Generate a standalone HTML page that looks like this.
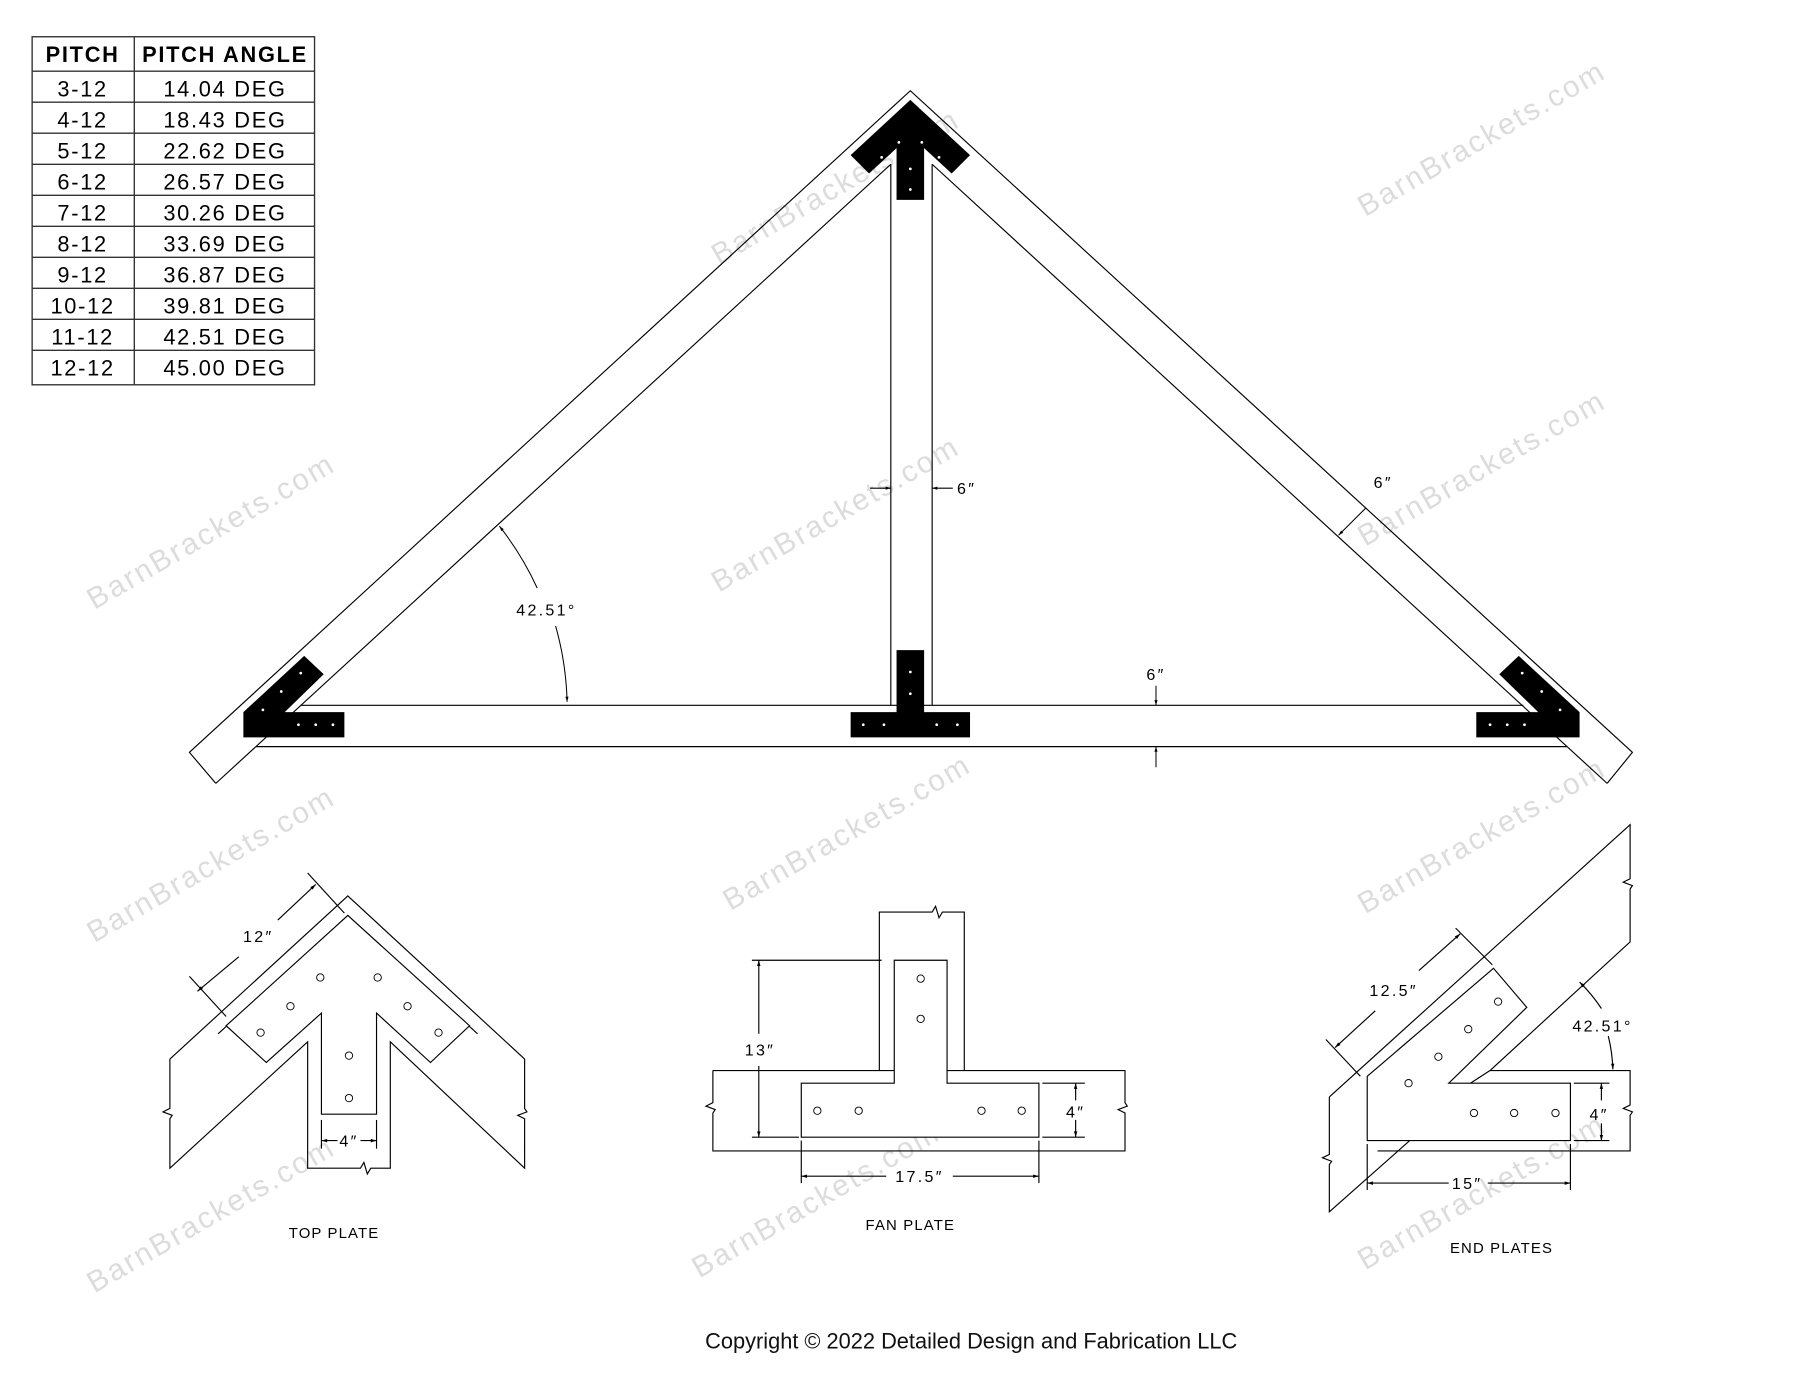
<!DOCTYPE html>
<html><head><meta charset="utf-8"><style>
html,body{margin:0;padding:0;background:#fff;}
svg{display:block;}
text{font-family:"Liberation Sans",sans-serif;}
.t{font-size:19px;letter-spacing:1.5px;fill:#000;}
.d{font-size:14px;letter-spacing:2px;fill:#000;}
.w{font-size:26px;fill:#dcdcdc;letter-spacing:2px;}
</style></head><body>
<svg width="1800" height="1391" viewBox="0 0 1568 1211" preserveAspectRatio="none" xmlns="http://www.w3.org/2000/svg">
<defs>
<marker id="a" viewBox="0 0 10 10" refX="10" refY="5" markerWidth="7" markerHeight="5" orient="auto-start-reverse"><path d="M0,2 L10,5 L0,8z" fill="#000"/></marker>
</defs>
<rect width="1568" height="1211" fill="#fff"/>
<g class="w">
<text class="w" transform="translate(188,470) rotate(-30)" text-anchor="middle">BarnBrackets.com</text>
<text class="w" transform="translate(732,170) rotate(-30)" text-anchor="middle">BarnBrackets.com</text>
<text class="w" transform="translate(1295,128) rotate(-30)" text-anchor="middle">BarnBrackets.com</text>
<text class="w" transform="translate(732,455) rotate(-30)" text-anchor="middle">BarnBrackets.com</text>
<text class="w" transform="translate(1295,415) rotate(-30)" text-anchor="middle">BarnBrackets.com</text>
<text class="w" transform="translate(188,760) rotate(-30)" text-anchor="middle">BarnBrackets.com</text>
<text class="w" transform="translate(742,732) rotate(-30)" text-anchor="middle">BarnBrackets.com</text>
<text class="w" transform="translate(1295,735) rotate(-30)" text-anchor="middle">BarnBrackets.com</text>
<text class="w" transform="translate(188,1065) rotate(-30)" text-anchor="middle">BarnBrackets.com</text>
<text class="w" transform="translate(715,1052) rotate(-30)" text-anchor="middle">BarnBrackets.com</text>
<text class="w" transform="translate(1295,1045) rotate(-30)" text-anchor="middle">BarnBrackets.com</text>
</g>
<g stroke="#333" stroke-width="1.2" fill="none">
<rect x="28" y="32" width="246" height="303"/>
<line x1="117" y1="32" x2="117" y2="335"/>
<line x1="28" y1="62" x2="274" y2="62"/>
<line x1="28" y1="89" x2="274" y2="89"/><line x1="28" y1="116" x2="274" y2="116"/>
<line x1="28" y1="143" x2="274" y2="143"/><line x1="28" y1="170" x2="274" y2="170"/>
<line x1="28" y1="197" x2="274" y2="197"/><line x1="28" y1="224" x2="274" y2="224"/>
<line x1="28" y1="251" x2="274" y2="251"/><line x1="28" y1="278" x2="274" y2="278"/>
<line x1="28" y1="305" x2="274" y2="305"/>
</g>
<g class="t" text-anchor="middle">
<text x="72" y="54" font-weight="bold">PITCH</text><text x="196" y="54" font-weight="bold">PITCH ANGLE</text>
<text x="72" y="84">3-12</text><text x="196" y="84">14.04 DEG</text>
<text x="72" y="111">4-12</text><text x="196" y="111">18.43 DEG</text>
<text x="72" y="138">5-12</text><text x="196" y="138">22.62 DEG</text>
<text x="72" y="165">6-12</text><text x="196" y="165">26.57 DEG</text>
<text x="72" y="192">7-12</text><text x="196" y="192">30.26 DEG</text>
<text x="72" y="219">8-12</text><text x="196" y="219">33.69 DEG</text>
<text x="72" y="246">9-12</text><text x="196" y="246">36.87 DEG</text>
<text x="72" y="273">10-12</text><text x="196" y="273">39.81 DEG</text>
<text x="72" y="300">11-12</text><text x="196" y="300">42.51 DEG</text>
<text x="72" y="327">12-12</text><text x="196" y="327">45.00 DEG</text>
</g>
<g stroke="#000" stroke-width="1" fill="none">
<polyline points="188,682 165,655 793,79 1422,655 1400,682"/>
<line x1="188" y1="682" x2="776" y2="143"/>
<line x1="1400" y1="682" x2="812" y2="143"/>
<line x1="776" y1="143" x2="776" y2="614"/>
<line x1="812" y1="143" x2="812" y2="614"/>
<line x1="262" y1="614" x2="1327" y2="614"/>
<line x1="223" y1="650" x2="1365" y2="650"/>
</g>
<g fill="#000">
<polygon points="793,87 845,135 829,151 805,129 805,174 781,174 781,129 757,151 741,135"/>
<polygon points="265,571 282,587 248,620 300,620 300,642 212,642 212,620"/>
<polygon points="1323,571 1306,587 1340,620 1286,620 1286,642 1376,642 1376,620"/>
<polygon points="781,566 805,566 805,620 845,620 845,642 741,642 741,620 781,620"/>
</g>
<g fill="#fff">
<circle cx="793" cy="147" r="1.2"/><circle cx="793" cy="165" r="1.2"/>
<circle cx="783" cy="124" r="1.2"/><circle cx="803" cy="124" r="1.2"/>
<circle cx="768" cy="137" r="1.2"/><circle cx="818" cy="137" r="1.2"/>
<circle cx="753" cy="149" r="1.2"/><circle cx="833" cy="149" r="1.2"/>
<circle cx="793" cy="585" r="1.2"/><circle cx="793" cy="604" r="1.2"/>
<circle cx="752" cy="631" r="1.2"/><circle cx="770" cy="631" r="1.2"/><circle cx="816" cy="631" r="1.2"/><circle cx="834" cy="631" r="1.2"/>
<circle cx="262" cy="586" r="1.2"/><circle cx="245" cy="602" r="1.2"/><circle cx="229" cy="618" r="1.2"/>
<circle cx="260" cy="631" r="1.2"/><circle cx="275" cy="631" r="1.2"/><circle cx="290" cy="631" r="1.2"/>
<circle cx="1326" cy="586" r="1.2"/><circle cx="1343" cy="602" r="1.2"/><circle cx="1359" cy="618" r="1.2"/>
<circle cx="1328" cy="631" r="1.2"/><circle cx="1313" cy="631" r="1.2"/><circle cx="1298" cy="631" r="1.2"/>
</g>
<g stroke="#000" stroke-width="0.9" fill="none">
<line x1="758" y1="425" x2="776" y2="425" marker-end="url(#a)"/>
<line x1="830" y1="425" x2="812" y2="425" marker-end="url(#a)"/>
<line x1="1190" y1="442" x2="1166" y2="466" marker-end="url(#a)"/>
<line x1="1007" y1="597" x2="1007" y2="614" marker-end="url(#a)"/>
<line x1="1007" y1="668" x2="1007" y2="650" marker-end="url(#a)"/>
<path d="M435,458 A266,266 0 0 1 468,512" marker-start="url(#a)"/>
<path d="M484,545 A266,266 0 0 1 494,611" marker-end="url(#a)"/>
</g>
<g class="d" text-anchor="middle">
<text x="842" y="430">6″</text>
<text x="1205" y="425">6″</text>
<text x="1007" y="592">6″</text>
<text x="476" y="536">42.51°</text>
</g>
<g stroke="#000" stroke-width="1" fill="none">
<polyline points="148,922 303,780 457,922"/>
<polyline points="148,922 148,965 142,968 150,971 148,974 148,1017 268,907 268,1017 314,1017 317,1012 320,1022 323,1017 340,1017 340,907 457,1017 457,974 451,971 459,968 457,965 457,922"/>
<polyline points="190,900 303,797 416,900"/>
<polygon points="197,893 303,797 409,893 375,925 328,882 328,970 280,970 280,882 232,925" fill="#fff"/>
<line x1="280" y1="975" x2="280" y2="1000"/><line x1="328" y1="975" x2="328" y2="1000"/>
<line x1="294" y1="993" x2="280" y2="993" marker-end="url(#a)"/>
<line x1="314" y1="993" x2="328" y2="993" marker-end="url(#a)"/>
<line x1="165" y1="850" x2="197" y2="885"/><line x1="268" y1="760" x2="300" y2="795"/>
<line x1="208" y1="833" x2="172" y2="863" marker-end="url(#a)"/>
<line x1="242" y1="801" x2="275" y2="770" marker-end="url(#a)"/>
<g stroke-width="0.8">
<circle cx="279" cy="851" r="3.2"/><circle cx="329" cy="851" r="3.2"/>
<circle cx="253" cy="876" r="3.2"/><circle cx="355" cy="876" r="3.2"/>
<circle cx="227" cy="899" r="3.2"/><circle cx="382" cy="899" r="3.2"/>
<circle cx="304" cy="919" r="3.2"/><circle cx="304" cy="956" r="3.2"/>
</g>
</g>
<g class="d" text-anchor="middle">
<text x="304" y="998">4″</text>
<text x="225" y="820">12″</text>
<text x="291" y="1078" font-size="13" letter-spacing="1">TOP PLATE</text>
</g>
<g stroke="#000" stroke-width="1" fill="none">
<polyline points="766,932 766,794 812,794 815,789 818,799 821,794 840,794 840,932"/>
<polyline points="621,932 621,960 615,963 623,966 621,969 621,1002 980,1002 980,969 974,966 982,963 980,960 980,932 621,932"/>
<polygon points="779,836 825,836 825,943 905,943 905,990 698,990 698,943 779,943" fill="#fff"/>
<line x1="655" y1="836" x2="768" y2="836"/><line x1="655" y1="990" x2="696" y2="990"/>
<line x1="661" y1="900" x2="661" y2="836" marker-end="url(#a)"/>
<line x1="661" y1="928" x2="661" y2="990" marker-end="url(#a)"/>
<line x1="908" y1="943" x2="945" y2="943"/><line x1="908" y1="990" x2="945" y2="990"/>
<line x1="937" y1="958" x2="937" y2="943" marker-end="url(#a)"/>
<line x1="937" y1="975" x2="937" y2="990" marker-end="url(#a)"/>
<line x1="698" y1="993" x2="698" y2="1030"/><line x1="905" y1="993" x2="905" y2="1030"/>
<line x1="772" y1="1024" x2="698" y2="1024" marker-end="url(#a)"/>
<line x1="830" y1="1024" x2="905" y2="1024" marker-end="url(#a)"/>
<g stroke-width="0.8">
<circle cx="802" cy="852" r="3.2"/><circle cx="802" cy="887" r="3.2"/>
<circle cx="712" cy="967" r="3.2"/><circle cx="748" cy="967" r="3.2"/>
<circle cx="855" cy="967" r="3.2"/><circle cx="890" cy="967" r="3.2"/>
</g>
</g>
<g class="d" text-anchor="middle">
<text x="662" y="919">13″</text>
<text x="937" y="973">4″</text>
<text x="801" y="1029">17.5″</text>
<text x="793" y="1071" font-size="13" letter-spacing="1">FAN PLATE</text>
</g>
<g stroke="#000" stroke-width="1" fill="none">
<polyline points="1158,955 1420,718 1420,765 1414,768 1422,771 1420,774 1420,820 1298,932"/>
<polyline points="1298,932 1420,932 1420,962 1414,965 1422,968 1420,971 1420,1002 1200,1002"/>
<polyline points="1158,955 1158,1005 1152,1008 1160,1011 1158,1014 1158,1055 1228,993"/>
<polygon points="1191,937 1301,843 1330,877 1262,943 1368,943 1368,993 1191,993" fill="#fff"/>
<line x1="1298" y1="932" x2="1281" y2="943"/>
<line x1="1155" y1="905" x2="1185" y2="937"/><line x1="1268" y1="808" x2="1300" y2="840"/>
<line x1="1198" y1="880" x2="1163" y2="912" marker-end="url(#a)"/>
<line x1="1236" y1="845" x2="1272" y2="813" marker-end="url(#a)"/>
<line x1="1371" y1="943" x2="1402" y2="943"/><line x1="1371" y1="993" x2="1402" y2="993"/>
<line x1="1395" y1="958" x2="1395" y2="943" marker-end="url(#a)"/>
<line x1="1395" y1="978" x2="1395" y2="993" marker-end="url(#a)"/>
<line x1="1191" y1="996" x2="1191" y2="1036"/><line x1="1368" y1="996" x2="1368" y2="1036"/>
<line x1="1262" y1="1030" x2="1191" y2="1030" marker-end="url(#a)"/>
<line x1="1296" y1="1030" x2="1368" y2="1030" marker-end="url(#a)"/>
<path d="M1395,878 A140,140 0 0 0 1376,855" marker-end="url(#a)"/>
<path d="M1401,902 A140,140 0 0 1 1405,931" marker-end="url(#a)"/>
<g stroke-width="0.8">
<circle cx="1305" cy="872" r="3.2"/><circle cx="1279" cy="896" r="3.2"/>
<circle cx="1253" cy="920" r="3.2"/><circle cx="1227" cy="943" r="3.2"/>
<circle cx="1284" cy="969" r="3.2"/><circle cx="1319" cy="969" r="3.2"/><circle cx="1355" cy="969" r="3.2"/>
</g>
</g>
<g class="d" text-anchor="middle">
<text x="1214" y="867">12.5″</text>
<text x="1396" y="898">42.51°</text>
<text x="1393" y="975">4″</text>
<text x="1278" y="1035">15″</text>
<text x="1308" y="1091" font-size="13" letter-spacing="1">END PLATES</text>
</g>
<text x="846" y="1174" text-anchor="middle" font-size="19" fill="#111">Copyright © 2022 Detailed Design and Fabrication LLC</text>
</svg>
</body></html>
